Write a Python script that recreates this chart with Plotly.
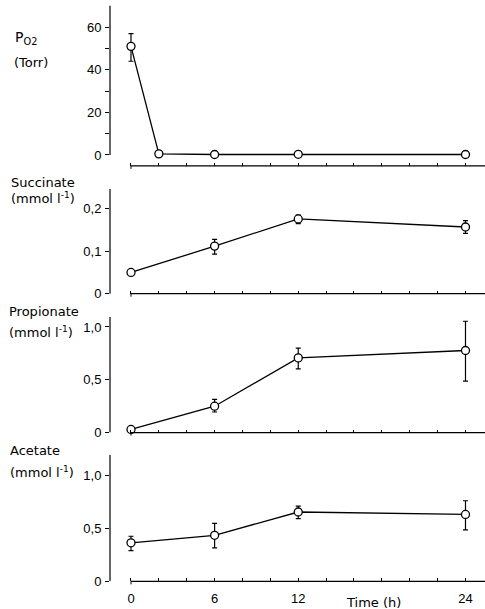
import plotly.graph_objects as go

W, H = 485, 609

# ---------------- data ----------------
t_po2 = [0, 2, 6, 12, 24]
po2 = [51, 0.5, 0.2, 0.3, 0.2]
po2_up = [6, 0.6, 0.3, 0.3, 0.3]
po2_dn = [7, 0.6, 0.3, 0.3, 0.3]

t_conc = [0, 6, 12, 24]
succinate = [0.050, 0.112, 0.176, 0.157]
succ_up = [0.004, 0.016, 0.009, 0.015]
succ_dn = [0.004, 0.019, 0.011, 0.015]

propionate = [0.03, 0.25, 0.707, 0.777]
prop_up = [0.02, 0.065, 0.093, 0.277]
prop_dn = [0.02, 0.055, 0.103, 0.289]

acetate = [0.364, 0.435, 0.655, 0.632]
acet_up = [0.062, 0.113, 0.056, 0.129]
acet_dn = [0.074, 0.118, 0.063, 0.146]

x_ticks = list(range(0, 25, 2))
x_labels = ["0", "6", "12", "24"]

po2_ticks = [0, 10, 20, 30, 40, 50, 60]
po2_ticktext = ["0", "", "20", "", "40", "", "60"]
succ_ticks = [0, 0.1, 0.2]
succ_ticktext = ["0", "0,1", "0,2"]
conc_ticks = [0, 0.5, 1.0]
conc_ticktext = ["0", "0,5", "1,0"]

# ---------------- layout helpers ----------------
def fy(px):
    pc = (px + 2.5) / 0.9905
    return 1 - pc / H

def fx(px):
    return px / W

FONT = "DejaVu Sans"
TFONT = "Liberation Sans"
x_range = [-1.506, 25.4]
x_end = 25.4

panels = [
    dict(t=t_po2, y=po2, up=po2_up, dn=po2_dn, dom=(3, 164), rng=[-5.145, 70.2],
         yt=po2_ticks, ytt=po2_ticktext, ytop=70.2),
    dict(t=t_conc, y=succinate, up=succ_up, dn=succ_dn, dom=(187, 292.3), rng=[0, 0.2469],
         yt=succ_ticks, ytt=succ_ticktext, ytop=0.2469),
    dict(t=t_conc, y=propionate, up=prop_up, dn=prop_dn, dom=(315.7, 431.7), rng=[0, 1.094],
         yt=conc_ticks, ytt=conc_ticktext, ytop=1.094),
    dict(t=t_conc, y=acetate, up=acet_up, dn=acet_dn, dom=(454, 581), rng=[0, 1.195],
         yt=conc_ticks, ytt=conc_ticktext, ytop=1.195),
]

fig = go.Figure()
shapes = []
layout = {}
for i, p in enumerate(panels, start=1):
    sx = "" if i == 1 else str(i)
    xa, ya = "x" + sx, "y" + sx
    fig.add_trace(go.Scatter(
        x=p["t"], y=p["y"], xaxis=xa, yaxis=ya, mode="lines+markers",
        line=dict(color="black", width=1.3),
        marker=dict(symbol="circle", size=8, color="white", line=dict(width=1.3, color="black")),
        error_y=dict(type="data", symmetric=False, array=p["up"], arrayminus=p["dn"],
                     color="black", thickness=1.2, width=2.5),
        showlegend=False, cliponaxis=False, hoverinfo="skip",
    ))
    last = (i == len(panels))
    layout["xaxis" + sx] = dict(
        domain=[fx(110), 1], range=x_range, anchor=ya,
        showline=False, showgrid=False, zeroline=False,
        ticks="inside", ticklen=3, tickwidth=1, tickcolor="black",
        tickvals=x_ticks,
        ticktext=[(str(v) if (last and v in (0, 6, 12, 24)) else "") for v in x_ticks],
        showticklabels=last,
        tickfont=dict(family=TFONT, size=13, color="black"),
        ticklabelstandoff=8,
        fixedrange=True,
    )
    layout["yaxis" + sx] = dict(
        domain=[fy(p["dom"][1]), fy(p["dom"][0])], range=p["rng"], anchor=xa,
        showline=False, showgrid=False, zeroline=False,
        ticks="outside", ticklen=4, tickwidth=1, tickcolor="black",
        tickvals=p["yt"], ticktext=p["ytt"],
        tickfont=dict(family=TFONT, size=13, color="black"),
        ticklabelstandoff=1,
        fixedrange=True,
    )
    # y axis line (from 0 to top)
    shapes.append(dict(type="line", xref=xa + " domain", yref=ya, x0=0, x1=0,
                       y0=0, y1=p["ytop"], line=dict(color="black", width=1.2)))
    # detached x axis line starting at t=0
    shapes.append(dict(type="line", xref=xa, yref=ya + " domain", x0=0, x1=x_end,
                       y0=0, y1=0, line=dict(color="black", width=1.2)))
    # small downward end tick at t=0
    shapes.append(dict(type="line", xref=xa, yref=ya + " domain", x0=0, x1=0,
                       ysizemode="pixel", yanchor=0, y0=-3, y1=0,
                       line=dict(color="black", width=1)))


def ann(text, xpx, ypx, size=13):
    return dict(text=text, xref="paper", yref="paper", x=fx(xpx), y=fy(ypx),
                xanchor="left", yanchor="middle", showarrow=False,
                font=dict(family=FONT, size=size, color="black"))

annotations = [
    ann("P<sub>O2</sub>", 13, 36, 14),
    ann("(Torr)", 12, 60),
    ann("Succinate", 9, 181),
    ann("(mmol l<sup>-1</sup>)", 9, 196),
    ann("Propionate", 7, 310),
    ann("(mmol l<sup>-1</sup>)", 7, 331),
    ann("Acetate", 8, 450),
    ann("(mmol l<sup>-1</sup>)", 8, 471),
    dict(text="Time (h)", xref="paper", yref="paper", x=fx(373), y=fy(602),
         xanchor="center", yanchor="middle", showarrow=False,
         font=dict(family=FONT, size=13, color="black")),
]

fig.update_layout(
    width=W, height=H,
    margin=dict(l=0, r=0, t=0, b=0),
    paper_bgcolor="white", plot_bgcolor="white",
    shapes=shapes, annotations=annotations,
    hovermode=False,
    **layout,
)

fig.write_html("out.html", config={"displayModeBar": False},
               post_script="document.body.style.margin='0';document.body.style.overflow='hidden';")
